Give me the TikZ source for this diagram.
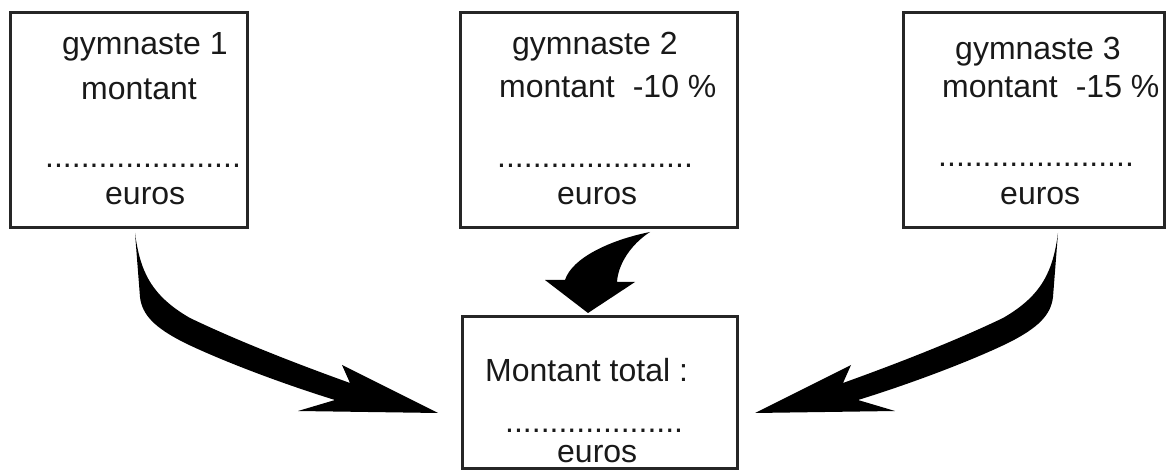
\documentclass[tikz,border=0pt]{standalone}
\usepackage{fontspec}
\setmainfont{Liberation Sans}
\begin{document}
\begin{tikzpicture}[x=1pt,y=-1pt,
  box/.style={draw=black!85, line width=3pt, rectangle, inner sep=0pt},
  txt/.style={anchor=base west, inner sep=0pt, font=\fontsize{32}{38}\selectfont, text=black!90},
  bigarrow/.style={fill=black}]
\useasboundingbox (0,0) rectangle (1171,470);
% boxes
\node[box, minimum width=237pt, minimum height=215pt] (b1) at (128.5,120.5) {};
\node[box, minimum width=277pt, minimum height=215pt] (b2) at (598.5,120.5) {};
\node[box, minimum width=261pt, minimum height=215pt] (b3) at (1033.5,120.5) {};
\node[box, minimum width=275pt, minimum height=151pt] (b4) at (599.5,392.5) {};
% box 1 texts
\node[txt] (g1) at (62,55) {gymnaste 1};
\node[txt] (m1) at (81,100) {montant};
\node[txt] (d1) at (45,168) {......................};
\node[txt] (e1) at (105,205) {euros};
% box 2 texts
\node[txt] (g2) at (512,55) {gymnaste 2};
\node[txt] (m2) at (499,98) {montant\hspace{18pt}-10 \%};
\node[txt] (d2) at (497,168) {......................};
\node[txt] (e2) at (557,205) {euros};
% box 3 texts
\node[txt] (g3) at (955,60) {gymnaste 3};
\node[txt] (m3) at (942,98) {montant\hspace{18pt}-15 \%};
\node[txt] (d3) at (938,167) {......................};
\node[txt] (e3) at (1000,205) {euros};
% box 4 texts
\node[txt] (t4) at (485,382) {Montant total :};
\node[txt] (d4) at (505,433) {....................};
\node[txt] (e4) at (557,462) {euros};
% arrows
\fill[bigarrow] (135,233) .. controls (140,270) and (150,295) .. (190,318)
  .. controls (240,342) and (300,365) .. (350,383) -- (342,365) -- (438,413) -- (298,411) -- (335,400)
  .. controls (280,383) and (220,360) .. (185,343)
  .. controls (155,328) and (142,315) .. (140,297) -- cycle;
\fill[bigarrow] (1058,233) .. controls (1053,270) and (1043,295) .. (1003,318)
  .. controls (953,342) and (893,365) .. (843,383) -- (851,365) -- (755,413) -- (895,411) -- (858,400)
  .. controls (913,383) and (973,360) .. (1008,343)
  .. controls (1038,328) and (1051,315) .. (1053,297) -- cycle;
\fill[bigarrow] (650,232) .. controls (610,240) and (572,258) .. (565,280) -- (545,280) -- (588,313)
  -- (635,282) -- (617,282) .. controls (618,265) and (630,245) .. (650,232) -- cycle;
\end{tikzpicture}
\end{document}
